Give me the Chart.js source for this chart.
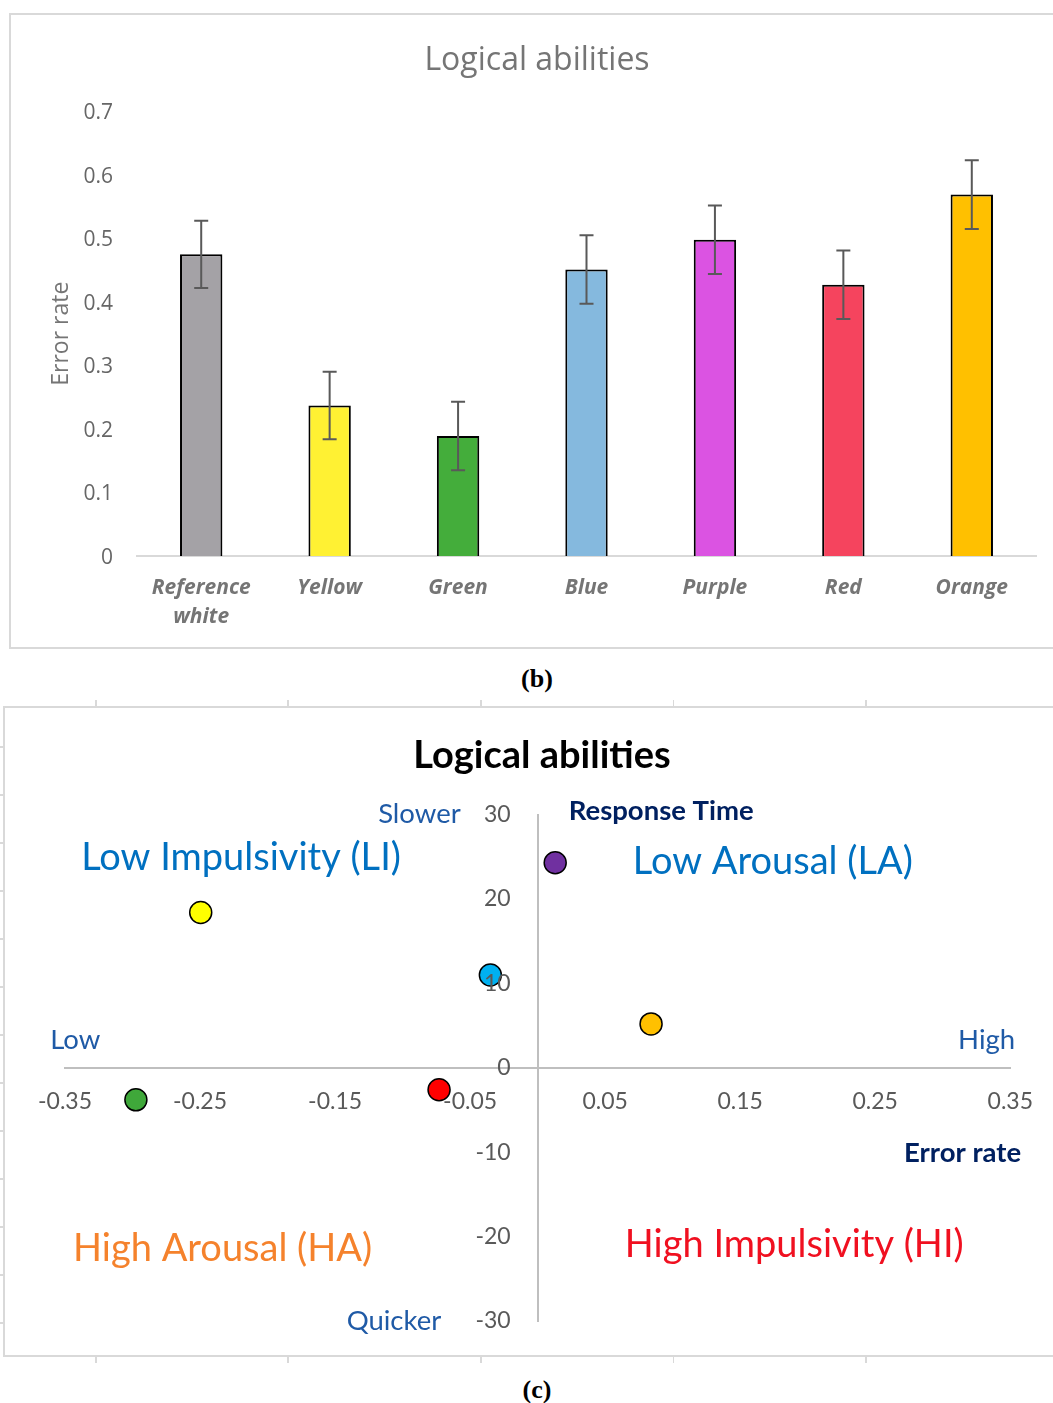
<!DOCTYPE html>
<html>
<head>
<meta charset="utf-8">
<script src="https://cdn.jsdelivr.net/npm/chart.js@4.4.1/dist/chart.umd.min.js"></script>
<style>
  html, body { margin: 0; padding: 0; background: #fff; width: 1053px; height: 1403px; overflow: hidden; }
  .frame { position: absolute; border: 2px solid #d9d9d9; box-sizing: border-box; }
  canvas { position: absolute; }
  .caption { position: absolute; width: 100px; text-align: center; font: bold 26px "Liberation Serif", "DejaVu Serif", serif; color: #000; }
  .marks { position: absolute; }
</style>
</head>
<body>
<div class="frame" style="left:9px; top:13px; width:1060px; height:636px;"></div>
<canvas id="barChart" width="1043" height="634" style="left:10px; top:14px;"></canvas>
<div class="caption" style="left:487px; top:664px;">(b)</div>

<div class="marks" style="left:0; top:700px; width:1053px; height:7px;
  background: repeating-linear-gradient(to right, transparent 0 95px, #d9d9d9 95px 97px, transparent 97px 192.5px);"></div>
<div class="marks" style="left:0; top:1356px; width:1053px; height:7px;
  background: repeating-linear-gradient(to right, transparent 0 95px, #d9d9d9 95px 97px, transparent 97px 192.5px);"></div>
<div class="marks" style="left:0; top:700px; width:4px; height:656px;
  background: repeating-linear-gradient(to bottom, transparent 0 46px, #d9d9d9 46px 48px, transparent 48px 47.7px);"></div>
<div class="frame" style="left:3px; top:706px; width:1070px; height:651px;"></div>
<canvas id="scatterChart" width="1049" height="649" style="left:4px; top:707px;"></canvas>
<div class="caption" style="left:487px; top:1375px;">(c)</div>

<script>
// --- dati grafico (b): tasso di errore per colore
const barLabels = [["Reference", "white"], "Yellow", "Green", "Blue", "Purple", "Red", "Orange"];
const errorRates = [0.475, 0.237, 0.189, 0.451, 0.498, 0.427, 0.569];
const errorMargins = [0.053, 0.053, 0.054, 0.054, 0.054, 0.054, 0.054];
const barColors = ["#a4a2a6", "#fff133", "#44ad3b", "#85b9de", "#db53e2", "#f5445e", "#ffc000"];
const barTicks = [0, 0.1, 0.2, 0.3, 0.4, 0.5, 0.6, 0.7];

// --- dati grafico (c): differenze rispetto al bianco di riferimento
const pointNames = ["Yellow", "Green", "Blue", "Purple", "Red", "Orange"];
const errorRateDiff = [-0.2495, -0.2975, -0.035, 0.013, -0.073, 0.084];
const responseTimeDiff = [18.4, -3.8, 11.0, 24.3, -2.6, 5.2];
const pointColors = ["#ffff00", "#3fa83a", "#00b0f0", "#7030a0", "#ff0000", "#ffc000"];
const scatterXTicks = [-0.35, -0.25, -0.15, -0.05, 0.05, 0.15, 0.25, 0.35];
const scatterYTicks = [-30, -20, -10, 0, 10, 20, 30];

Chart.defaults.animation = false;
Chart.defaults.devicePixelRatio = 1;

// barre d'errore disegnate sopra le barre
const errorBarsPlugin = {
  id: "errorBars",
  afterDatasetsDraw(chart) {
    const ctx = chart.ctx;
    const y = chart.scales.y;
    const meta = chart.getDatasetMeta(0);
    ctx.save();
    ctx.strokeStyle = "#595959";
    ctx.lineWidth = 2;
    meta.data.forEach((bar, i) => {
      const top = y.getPixelForValue(errorRates[i] + errorMargins[i]);
      const bottom = y.getPixelForValue(errorRates[i] - errorMargins[i]);
      ctx.beginPath();
      ctx.moveTo(bar.x, top);
      ctx.lineTo(bar.x, bottom);
      ctx.moveTo(bar.x - 7, top);
      ctx.lineTo(bar.x + 7, top);
      ctx.moveTo(bar.x - 7, bottom);
      ctx.lineTo(bar.x + 7, bottom);
      ctx.stroke();
    });
    ctx.restore();
  },
};

new Chart(document.getElementById("barChart"), {
  type: "bar",
  data: {
    labels: barLabels,
    datasets: [{
      data: errorRates,
      backgroundColor: barColors,
      borderColor: "#000",
      borderWidth: 2,
      borderSkipped: "bottom",
      categoryPercentage: 1,
      barPercentage: 0.33,
    }],
  },
  options: {
    responsive: false,
    layout: { padding: { left: 28, right: 17, top: 0, bottom: 0 } },
    plugins: {
      legend: { display: false },
      tooltip: { enabled: false },
      title: {
        display: true,
        text: "Logical abilities",
        color: "#757575",
        font: { family: "Open Sans", size: 32, weight: "normal" },
        padding: { top: 28, bottom: 31 },
      },
    },
    scales: {
      x: {
        grid: { display: false, drawTicks: false },
        border: { display: true, color: "#d9d9d9", width: 2 },
        ticks: {
          color: "#757575",
          padding: 18,
          maxRotation: 0,
          autoSkip: false,
          font: { family: "Open Sans", size: 21, weight: "bold", style: "italic", lineHeight: 1.35 },
        },
        afterFit: (s) => { s.height = 92; },
      },
      y: {
        min: 0,
        max: 0.7,
        grid: { display: false, drawTicks: false },
        border: { display: false },
        ticks: {
          color: "#666",
          padding: 24,
          labelOffset: 2,
          font: { family: "Open Sans", size: 21 },
          callback: (v) => String(Math.round(v * 10) / 10),
        },
        afterBuildTicks: (s) => { s.ticks = barTicks.map((v) => ({ value: v })); },
        afterFit: (s) => { s.width = 99; },
        title: {
          display: true,
          text: "Error rate",
          color: "#757575",
          font: { family: "Open Sans", size: 23 },
          padding: { top: 10 },
        },
      },
    },
  },
  plugins: [errorBarsPlugin],
});

// etichette dei quadranti, posizionate in coordinate dei dati
const quadrantNotes = [
  { text: "Slower", x: -0.057, y: 30.1, align: "right", size: 27.5, bold: false, color: "#1f5aa6" },
  { text: "Response Time", x: 0.023, y: 30.4, align: "left", size: 27.5, bold: true, color: "#002060" },
  { text: "Low Impulsivity (LI)", x: -0.338, y: 24.9, align: "left", size: 38, bold: false, color: "#0070c0" },
  { text: "Low Arousal (LA)", x: 0.0705, y: 24.4, align: "left", size: 38, bold: false, color: "#0070c0" },
  { text: "Low", x: -0.361, y: 3.3, align: "left", size: 27.5, bold: false, color: "#1f5aa6" },
  { text: "High", x: 0.3536, y: 3.3, align: "right", size: 27.5, bold: false, color: "#1f5aa6" },
  { text: "Error rate", x: 0.358, y: -10.1, align: "right", size: 27.5, bold: true, color: "#002060" },
  { text: "High Arousal (HA)", x: -0.344, y: -21.4, align: "left", size: 38, bold: false, color: "#f5822c" },
  { text: "High Impulsivity (HI)", x: 0.0646, y: -21.0, align: "left", size: 38, bold: false, color: "#f01020" },
  { text: "Quicker", x: -0.0714, y: -30.0, align: "right", size: 27.5, bold: false, color: "#1f5aa6" },
];

// testi dei quadranti ed etichette dell'asse y accanto all'asse centrale
const quadrantNotesPlugin = {
  id: "quadrantNotes",
  afterDraw(chart) {
    const ctx = chart.ctx;
    const { x, y } = chart.scales;
    ctx.save();
    ctx.textBaseline = "middle";
    ctx.font = "23px Lato";
    ctx.fillStyle = "#595959";
    ctx.textAlign = "right";
    y.ticks.forEach((t) => {
      ctx.fillText(String(t.value), x.getPixelForValue(0) - 27, y.getPixelForValue(t.value));
    });
    quadrantNotes.forEach((n) => {
      ctx.font = `${n.bold ? "bold " : ""}${n.size}px Lato`;
      ctx.fillStyle = n.color;
      ctx.textAlign = n.align;
      ctx.fillText(n.text, x.getPixelForValue(n.x), y.getPixelForValue(n.y));
    });
    ctx.restore();
  },
};

new Chart(document.getElementById("scatterChart"), {
  type: "scatter",
  data: {
    datasets: [{
      data: errorRateDiff.map((v, i) => ({ x: v, y: responseTimeDiff[i], name: pointNames[i] })),
      backgroundColor: pointColors,
      borderColor: "#000",
      borderWidth: 1.5,
      pointRadius: 11,
    }],
  },
  options: {
    responsive: false,
    layout: { padding: { left: 61, right: 34, top: 0, bottom: 35 } },
    plugins: {
      legend: { display: false },
      tooltip: { enabled: false },
      title: {
        display: true,
        text: "Logical abilities",
        color: "#000",
        font: { family: "Lato", size: 38, weight: "bold" },
        padding: { top: 26, bottom: 36 },
      },
    },
    scales: {
      x: {
        type: "linear",
        min: -0.35,
        max: 0.35,
        position: { y: 0 },
        z: 1,
        grid: { display: false, drawTicks: false },
        border: { display: true, color: "#bfbfbf", width: 2 },
        ticks: {
          color: "#595959",
          padding: 20,
          maxRotation: 0,
          autoSkip: false,
          font: { family: "Lato", size: 23 },
          callback: (v) => v.toFixed(2),
        },
        afterBuildTicks: (s) => { s.ticks = scatterXTicks.map((v) => ({ value: v })); },
        afterFit: (s) => { s.height = 0; },
      },
      y: {
        type: "linear",
        min: -30,
        max: 30,
        position: { x: 0 },
        z: 1,
        grid: { display: false, drawTicks: false },
        border: { display: true, color: "#bfbfbf", width: 2 },
        ticks: { display: false },
        afterBuildTicks: (s) => { s.ticks = scatterYTicks.map((v) => ({ value: v })); },
        afterFit: (s) => { s.width = 0; },
      },
    },
  },
  plugins: [quadrantNotesPlugin],
});
</script>
</body>
</html>
